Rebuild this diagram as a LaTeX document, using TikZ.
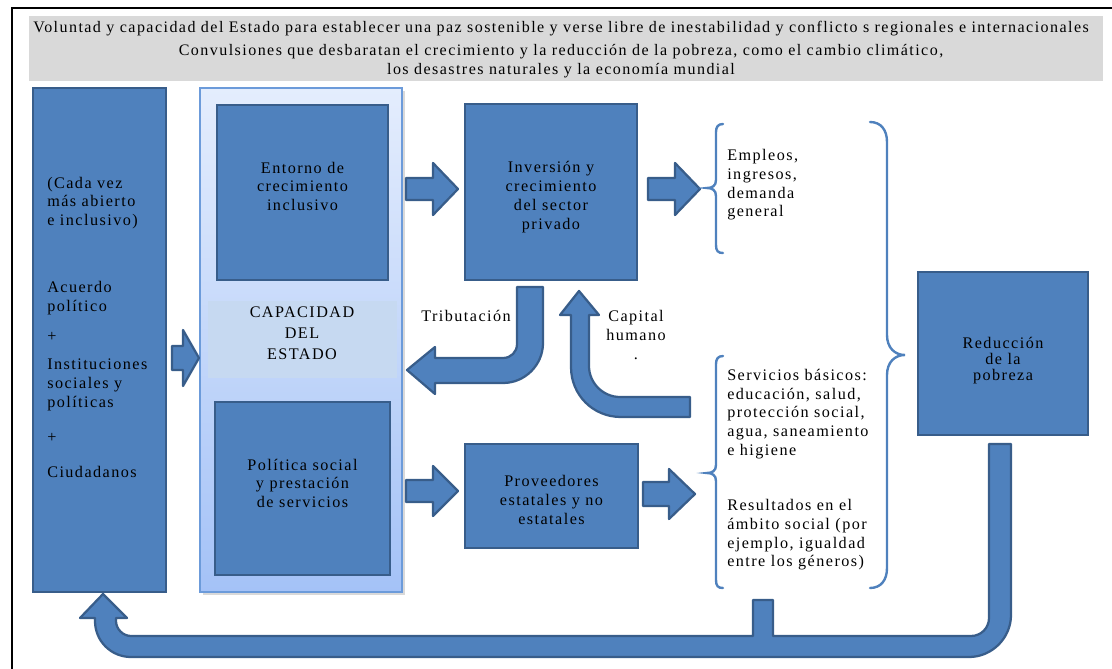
\documentclass[tikz,border=0pt]{standalone}
\usepackage{fontspec}
\setmainfont{Liberation Serif}[LetterSpace=9]
\usepackage{tikz}
\usetikzlibrary{positioning,shadows}

\definecolor{boxblue}{HTML}{4F81BD}
\definecolor{boxline}{HTML}{385D8A}
\definecolor{headgray}{HTML}{D9D9D9}
\definecolor{panelline}{HTML}{6C9BDA}
\definecolor{paneltop}{HTML}{E4EDFD}
\definecolor{panelbot}{HTML}{A4C2F7}
\definecolor{bandcol}{HTML}{C6D9F1}

\tikzset{
  box/.style={draw=boxline, line width=1.9pt, fill=boxblue, inner sep=0pt},
  fatarrow/.style={draw=boxline, line width=1.6pt, fill=boxblue, line join=round},
  txt/.style={inner sep=0pt, align=left, font=\fontsize{11.5}{13.3}\selectfont},
  brace/.style={draw=boxblue, line width=1.7pt, line cap=round},
}

\begin{document}
\begin{tikzpicture}[x=0.025cm, y=-0.025cm]
\useasboundingbox (0,0) rectangle (1112,669);

% frame and header band
\draw[line width=1.2pt] (12,669) -- (12,8) -- (1112,8);
\node[fill=headgray, inner sep=0pt, minimum width=26.85cm, minimum height=1.625cm] (head) at (566,48.5) {};
\node[txt, align=center, font=\fontsize{11.4}{13.6}\selectfont] (headTxt) at (561,49.5)
  {Voluntad y capacidad del Estado para establecer una paz sostenible y verse libre de inestabilidad y conflicto s regionales e internacionales\\[3pt]
   Convulsiones que desbaratan el crecimiento y la reducción de la pobreza, como el cambio climático,\\
   los desastres naturales y la economía mundial};

% state capacity panel
\node[draw=panelline, line width=1pt, top color=paneltop, bottom color=panelbot,
  drop shadow={shadow xshift=2pt, shadow yshift=-2pt, opacity=.3},
  minimum width=5.05cm, minimum height=12.6cm] (panel) at (301,340) {};
\node[fill=bandcol, inner sep=0pt, minimum width=4.725cm, minimum height=1.925cm] (band) at (302.5,339.5) {};
\node[txt, align=center] (capTxt) at (302,333) {CAPACIDAD\\[1.5pt]DEL\\[1.5pt]ESTADO};

% boxes
\node[box, minimum width=3.325cm, minimum height=12.6cm] (acuerdo) at (99.5,340) {};
\node[box, minimum width=4.275cm, minimum height=4.375cm] (entorno) at (302.5,192.5) {};
\node[box, minimum width=4.375cm, minimum height=4.325cm] (politica) at (302.5,488.5) {};
\node[box, minimum width=4.3cm, minimum height=4.4cm] (inversion) at (551,192) {};
\node[box, minimum width=4.325cm, minimum height=2.6cm] (proveedores) at (551.5,496) {};
\node[box, minimum width=4.25cm, minimum height=4.075cm] (reduccion) at (1003,353.5) {};

% text in the boxes
\node[txt, align=center] (entornoTxt) at ([yshift=4.3pt]entorno.center) {Entorno de\\crecimiento\\inclusivo};
\node[txt, align=center] (politicaTxt) at ([yshift=3.6pt]politica.center) {Política social\\y prestación\\de servicios};
\node[txt, align=center] (inversionTxt) at ([yshift=-3.6pt]inversion.center) {Inversión y\\crecimiento\\del sector\\privado};
\node[txt, align=center] (proveedoresTxt) at ([yshift=-2.8pt]proveedores.center) {Proveedores\\estatales y no\\estatales};
\node[txt, align=center] (reduccionTxt) at ([yshift=-5pt]reduccion.center) {Reducción\\[-2.1pt]de la\\[-2.1pt]pobreza};

% text in the left box
\node[txt, anchor=west] (leftA) at (47,203) {(Cada vez\\más abierto\\e inclusivo)};
\node[txt, anchor=west] (leftB) at (47,298) {Acuerdo\\político};
\node[txt, anchor=west] (plusA) at (47,337) {+};
\node[txt, anchor=west] (leftC) at (47,385) {Instituciones\\sociales y\\políticas};
\node[txt, anchor=west] (plusB) at (47,438) {+};
\node[txt, anchor=west] (leftD) at (47,472) {Ciudadanos};

% labels
\node[txt, align=center] (tribut) at (466,316) {Tributación};
\node[txt, align=center] (capital) at (636,335) {Capital\\humano\\.};
\node[txt, anchor=west] (empleos) at (727,185) {Empleos,\\ingresos,\\demanda\\general};
\node[txt, anchor=west] (servicios) at (727,414) {Servicios básicos:\\educación, salud,\\protección social,\\agua, saneamiento\\e higiene};
\node[txt, anchor=west] (resultados) at (727,535) {Resultados en el\\ámbito social (por\\ejemplo, igualdad\\entre los géneros)};

% straight block arrows
\foreach \x/\y/\len/\hd/\sh/\hw in {406/189/52/25/11/26, 648/189/52/25/11/26,
    406/491/52/25/11/25, 643/494/52/26/12/25, 172/358/27/16/12/28}
  \draw[fatarrow] (\x,\y-\sh) -- (\x+\len-\hd,\y-\sh) -- (\x+\len-\hd,\y-\hw) -- (\x+\len,\y)
    -- (\x+\len-\hd,\y+\hw) -- (\x+\len-\hd,\y+\sh) -- (\x,\y+\sh) -- cycle;

% tributacion
\draw[fatarrow] (517,287) -- (517,344) .. controls (517,352) and (511,358) .. (503,358) -- (435,358)
  -- (435,347) -- (407,370) -- (435,394) -- (435,383) -- (503,383)
  .. controls (525,383) and (543,365) .. (543,343) -- (543,287) -- cycle;

% capital humano
\draw[fatarrow] (690,397) -- (620,397) .. controls (603,397) and (589,383) .. (589,366) -- (589,315)
  -- (599,315) -- (579,291) -- (560,315) -- (571,315) -- (571,367)
  .. controls (571,395) and (593,417) .. (621,417) -- (690,417) -- cycle;

% feedback loop at the bottom
\draw[fatarrow] (989,444) -- (989,618) .. controls (989,628) and (981,636) .. (971,636) -- (773,636)
  -- (773,600) -- (753,600) -- (753,636) -- (131,636) .. controls (123,636) and (116,629) .. (116,621)
  -- (116,618) -- (127,618) -- (103,594) -- (80,618) -- (95,618) -- (95,621)
  .. controls (95,641) and (111,657) .. (131,657) -- (969,657)
  .. controls (992,657) and (1011,638) .. (1011,615) -- (1011,444) -- cycle;

% braces
\draw[brace] (723,124) .. controls (718,124) and (716,127) .. (716,132) -- (716,180)
  .. controls (716,186) and (712,188) .. (707,188) .. controls (712,188) and (716,190) .. (716,196)
  -- (716,245) .. controls (716,251) and (718,253) .. (723,253);
\draw[brace] (723,356) .. controls (718,356) and (716,359) .. (716,364) -- (716,465)
  .. controls (716,471) and (712,473) .. (707,473) .. controls (712,473) and (716,475) .. (716,481)
  -- (716,580) .. controls (716,586) and (718,588) .. (723,588);
\draw[brace] (870,122) .. controls (881,122) and (887,130) .. (887,142) -- (887,335)
  .. controls (887,348) and (895,355) .. (905,355) .. controls (895,355) and (887,362) .. (887,375)
  -- (887,568) .. controls (887,580) and (881,588) .. (870,588);
\end{tikzpicture}
\end{document}
